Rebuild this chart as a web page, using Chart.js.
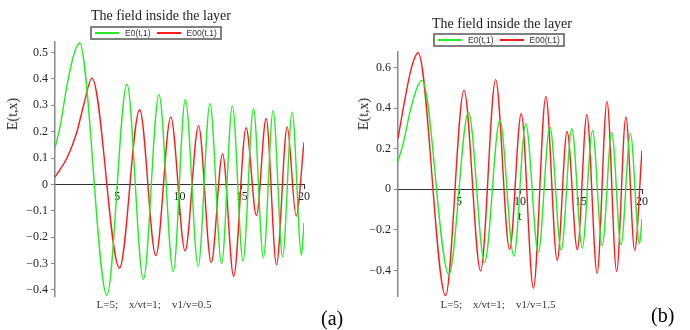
<!DOCTYPE html>
<html>
<head>
<meta charset="utf-8">
<script src="https://cdn.jsdelivr.net/npm/chart.js@4.4.1/dist/chart.umd.min.js"></script>
<style>
  body { margin: 0; background: #fff; }
  #wrap { position: relative; width: 690px; height: 330px; background: #fff; overflow: hidden; }
  canvas { position: absolute; top: 0; }
  .txt { position: absolute; font-family: "Liberation Serif", serif; color: #222; white-space: pre; line-height: 1; }
  .ttl { font-size: 14px; transform: translateX(-50%); }
  .ylab { font-size: 14px; transform: translate(-50%, -50%) rotate(-90deg); }
  .foot { font-size: 11px; color: #333; transform: translateX(-50%); }
  .panel { font-size: 20px; color: #000; }
  .leg { position: absolute; border: 2px solid #808080; height: 10px; font-family: "Liberation Sans", sans-serif; font-size: 8.5px; color: #333; display: flex; align-items: center; padding: 0 3px; gap: 6px; box-sizing: content-box; }
  .leg i { display: block; width: 24px; height: 2px; }
</style>
</head>
<body>
<div id="wrap">
  <canvas id="chartA" width="345" height="330" style="left:0"></canvas>
  <canvas id="chartB" width="345" height="330" style="left:345px"></canvas>

  <div class="txt ttl" style="left:161px; top:9px">The field inside the layer</div>
  <div class="leg" style="left:90px; top:26px"><i style="background:#22ee22"></i><span>E0(t,1)</span><i style="background:#ff1a1a"></i><span>E00(t,1)</span></div>
  <div class="txt ylab" style="left:13px; top:114px">E(t,x)</div>
  <div class="txt foot" style="left:154px; top:299px">L=5;    x/vt=1;    v1/v=0.5</div>
  <div class="txt panel" style="left:321px; top:308px">(a)</div>

  <div class="txt ttl" style="left:502px; top:17px">The field inside the layer</div>
  <div class="leg" style="left:433px; top:33px"><i style="background:#22ee22"></i><span>E0(t,1)</span><i style="background:#ff1a1a"></i><span>E00(t,1)</span></div>
  <div class="txt ylab" style="left:364px; top:114px">E(t,x)</div>
  <div class="txt foot" style="left:498px; top:299px">L=5;    x/vt=1;    v1/v=1.5</div>
  <div class="txt panel" style="left:651px; top:305px">(b)</div>
</div>
<script>
// E0(t,1) - same curve in both panels (extrema + a few points)
const tE0 = [0, 0.45, 0.96, 1.5, 1.97, 4.17, 5.78, 7.1, 8.35, 9.5, 10.47, 11.5, 12.45, 13.38, 14.25, 15.1, 15.94, 16.74, 17.52, 18.28, 19.05, 19.8, 20];
const vE0 = [0.137, 0.23, 0.375, 0.49, 0.536, -0.42, 0.38, -0.36, 0.34, -0.33, 0.323, -0.31, 0.307, -0.30, 0.298, -0.29, 0.288, -0.278, 0.28, -0.274, 0.274, -0.268, -0.145];

// E00(t,1), v1/v = 0.5
const tE00a = [0, 0.96, 1.76, 2.3, 2.97, 5.18, 6.8, 8.1, 9.3, 10.45, 11.53, 12.55, 13.46, 14.35, 15.35, 16.18, 16.96, 17.79, 18.65, 19.37, 20];
const vE00a = [0.028, 0.1, 0.2, 0.3, 0.403, -0.317, 0.283, -0.27, 0.255, -0.252, 0.222, -0.296, 0.116, -0.349, 0.215, -0.118, 0.25, -0.304, 0.218, -0.12, 0.16];

// E00(t,1), v1/v = 1.5
const tE00b = [0, 0.56, 1.11, 1.65, 3.9, 5.41, 6.77, 8.0, 9.15, 10.1, 11.1, 12.12, 13.05, 13.86, 14.7, 15.48, 16.32, 17.13, 17.92, 18.68, 19.4, 20];
const vE00b = [0.25, 0.44, 0.6, 0.672, -0.524, 0.487, -0.402, 0.54, -0.297, 0.372, -0.487, 0.457, -0.35, 0.285, -0.298, 0.367, -0.414, 0.433, -0.404, 0.356, -0.3, 0.192];

const xTicks = [5, 10, 15, 20];
const yTicksA = [-0.4, -0.3, -0.2, -0.1, 0, 0.1, 0.2, 0.3, 0.4, 0.5];
const yTicksB = [-0.4, -0.2, 0, 0.2, 0.4, 0.6];

const serif = { family: 'Liberation Serif', size: 12 };

let pts = (ts, vs) => ts.map((t, i) => ({ x: t, y: vs[i] }));

// etiquetas estilo maple: signo menos tipografico
let fmtTick = v => {
    if (Math.abs(v) < 1e-9) return '0';
    return (v < 0 ? '\u2212' : '') + Math.abs(v).toFixed(1);
};

let makePanel = (id, redT, redV, yMin, yMax, yTicks, pad) => {
    return new Chart(document.getElementById(id), {
        type: 'line',
        data: {
            datasets: [
                { label: 'E0(t,1)', data: pts(tE0, vE0), borderColor: '#22ee22' },
                { label: 'E00(t,1)', data: pts(redT, redV), borderColor: '#ff1a1a' }
            ]
        },
        options: {
            responsive: false,
            animation: false,
            layout: { padding: pad },
            elements: {
                line: { borderWidth: 1.4, cubicInterpolationMode: 'monotone' },
                point: { radius: 0 }
            },
            plugins: { legend: { display: false }, tooltip: { enabled: false } },
            scales: {
                x: {
                    type: 'linear',
                    min: 0,
                    max: 20,
                    position: { y: 0 },
                    afterBuildTicks: s => { s.ticks = xTicks.map(v => ({ value: v })); },
                    grid: { drawOnChartArea: false, drawTicks: true, tickLength: 4, color: '#333' },
                    border: { color: '#333', width: 1 },
                    ticks: { font: serif, color: '#222', padding: 1, maxRotation: 0, autoSkip: false },
                    title: { display: true, text: 't', font: serif, color: '#222', padding: 0 }
                },
                y: {
                    type: 'linear',
                    min: yMin,
                    max: yMax,
                    afterFit: s => { s.width = 40; },
                    afterBuildTicks: s => { s.ticks = yTicks.map(v => ({ value: v })); },
                    grid: { drawOnChartArea: false, drawTicks: true, tickLength: 4, color: '#888' },
                    border: { color: '#888', width: 1.5 },
                    ticks: { font: serif, color: '#222', padding: 3, autoSkip: false, callback: fmtTick }
                }
            }
        }
    });
};

makePanel('chartA', tE00a, vE00a, -0.423, 0.54, yTicksA, { left: 15, right: 41, top: 42, bottom: 34 });
makePanel('chartB', tE00b, vE00b, -0.526, 0.676, yTicksB, { left: 13, right: 48, top: 52, bottom: 34 });
</script>
</body>
</html>
